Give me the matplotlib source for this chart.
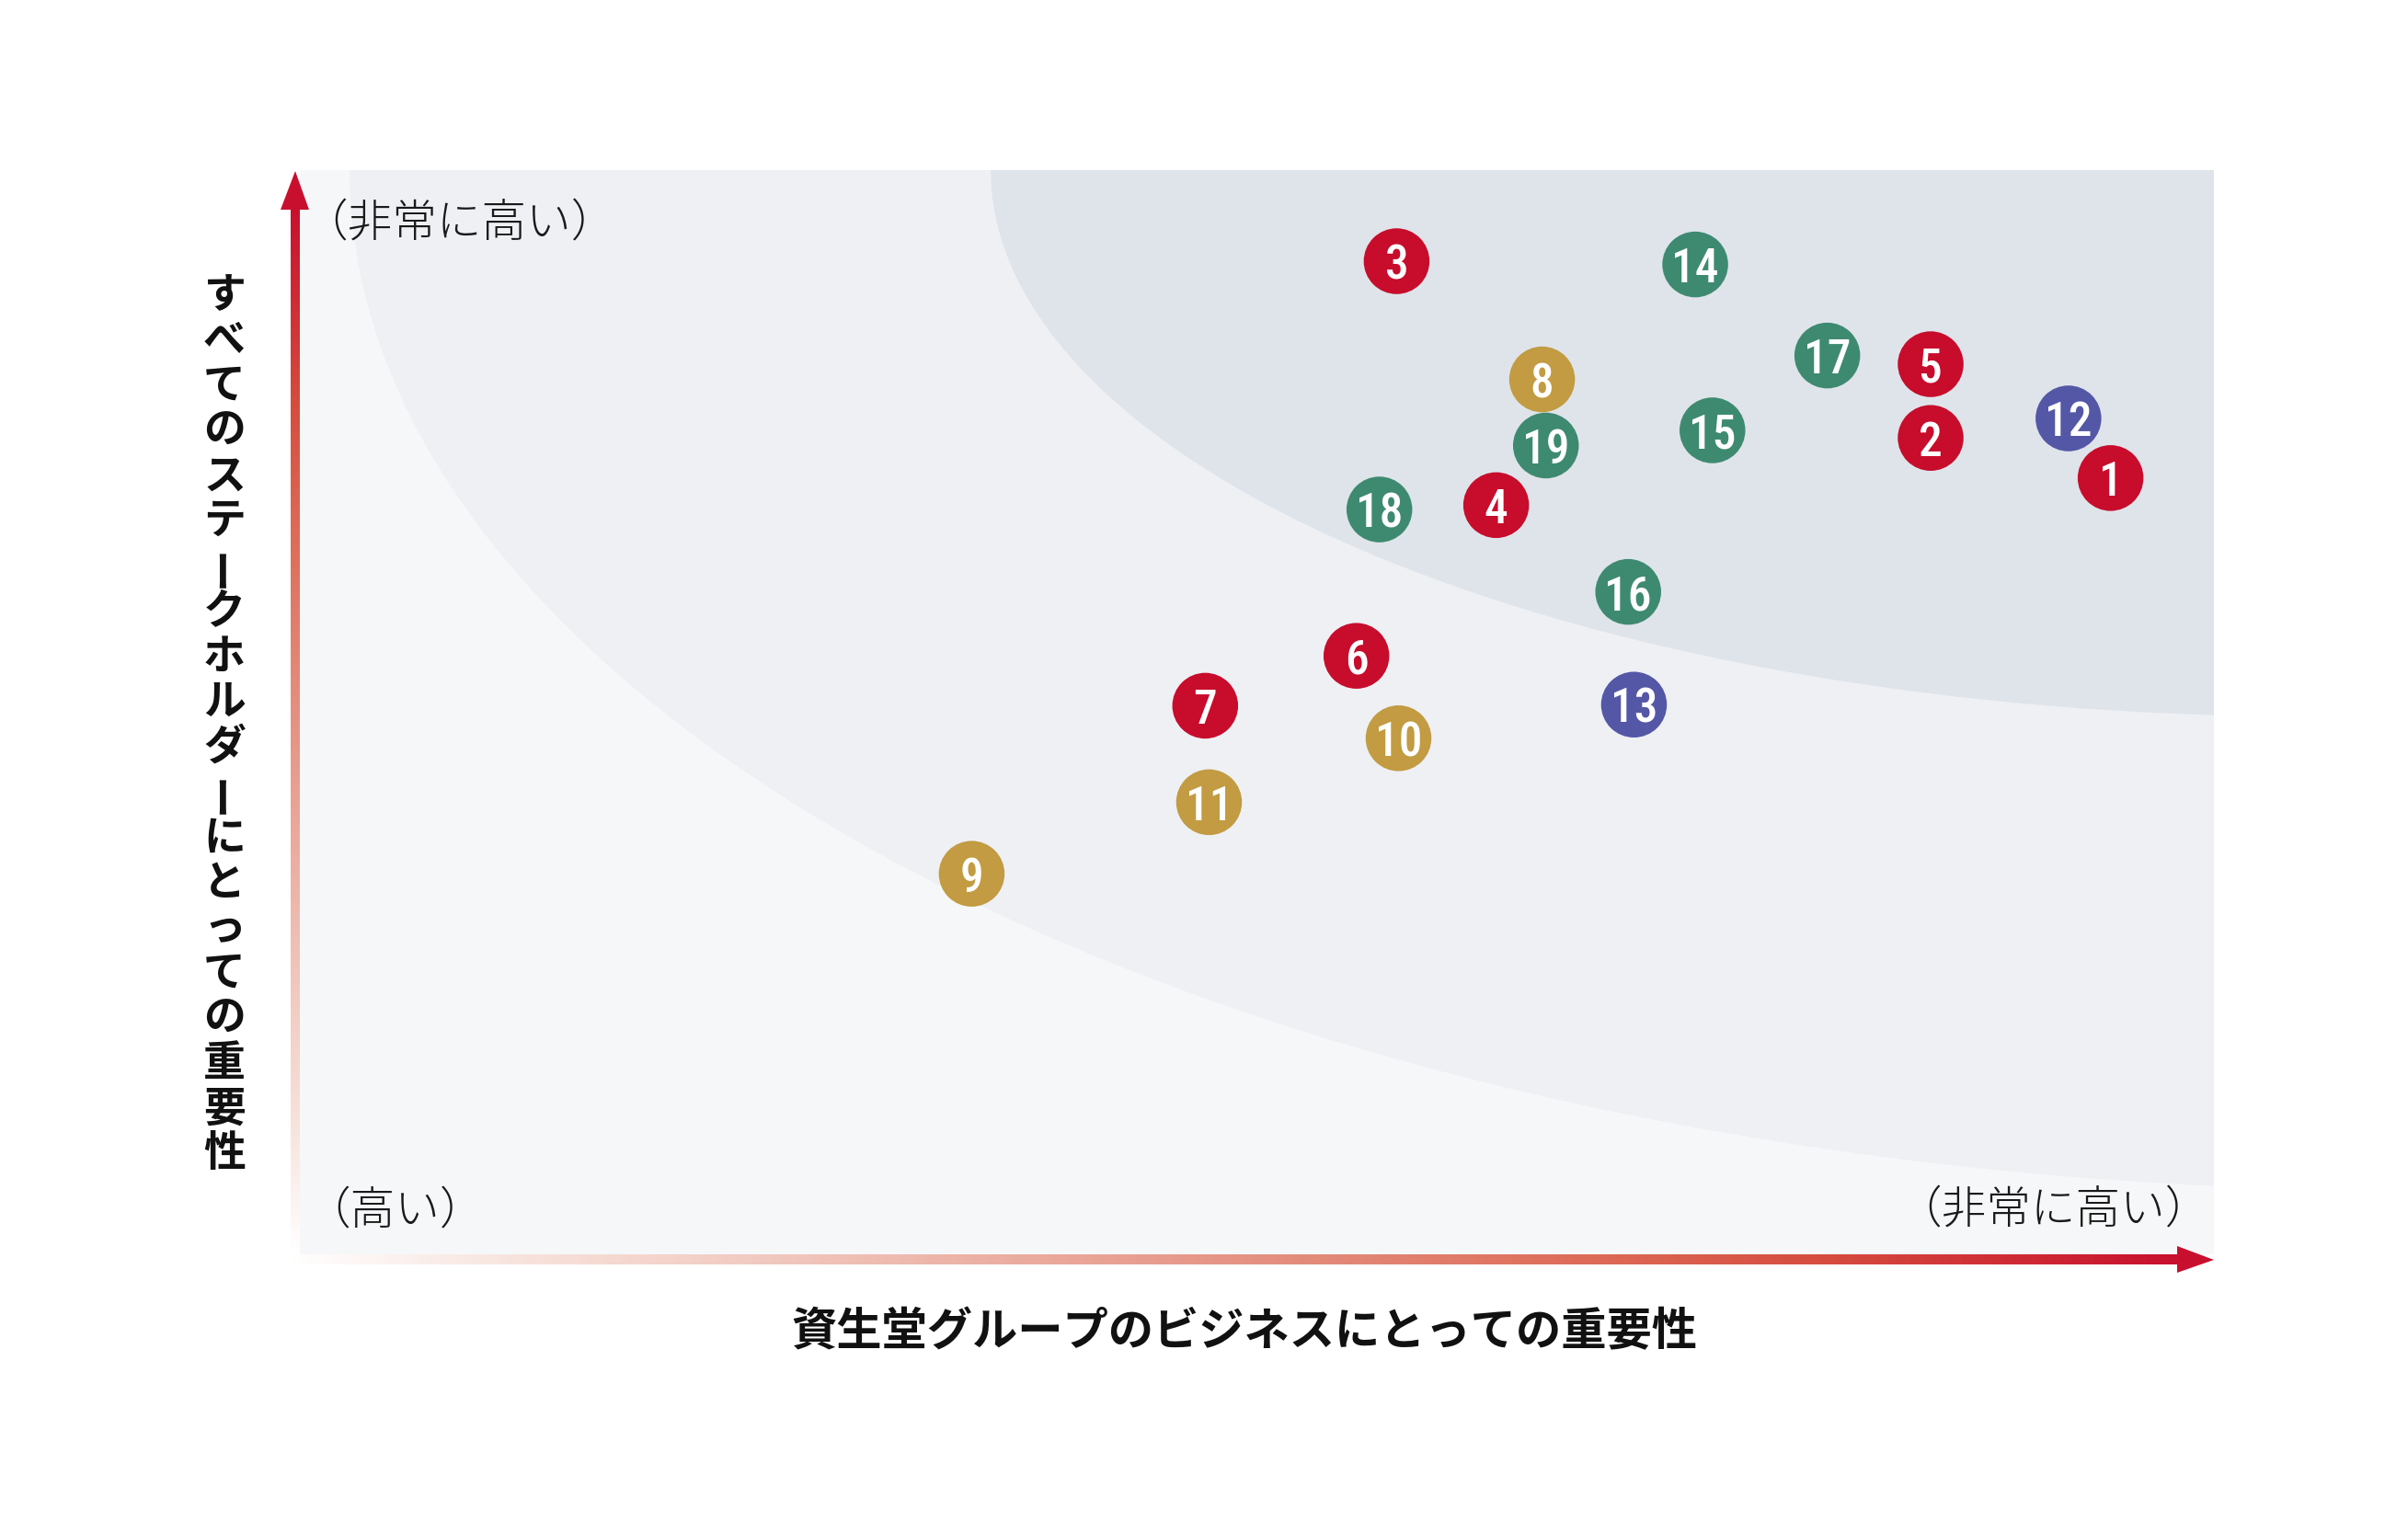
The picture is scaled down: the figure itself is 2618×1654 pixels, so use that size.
import matplotlib
matplotlib.use('Agg')
import matplotlib.pyplot as plt
import numpy as np
from matplotlib.patches import Ellipse, Polygon
from matplotlib.colors import LinearSegmentedColormap
from matplotlib import font_manager as fm

# ---------------- data ----------------
labels = [str(i) for i in range(1, 20)]
x_business = [94.6, 85.2, 57.3, 62.5, 85.2, 55.2, 47.3, 64.9, 35.1, 57.4,
              47.5, 92.4, 69.7, 72.9, 73.8, 69.4, 79.8, 56.4, 65.1]
y_stakeholder = [71.6, 75.3, 91.6, 69.1, 82.1, 55.2, 50.6, 80.7, 35.1, 47.6,
                 41.7, 77.1, 50.7, 91.3, 76.0, 61.1, 82.9, 68.7, 74.6]
groups = ['red'] * 7 + ['gold'] * 4 + ['purple'] * 2 + ['green'] * 6

xlabel = '資生堂グループのビジネスにとっての重要性'
ylabel = 'すべてのステークホルダーにとっての重要性'
top_label = '（非常に高い）'
low_label = '（高い）'

# ---------------- styles ----------------
group_colors = {'red': '#c80c2c', 'gold': '#c29b42', 'purple': '#5457a6', 'green': '#3e8a71'}
names = {f.name for f in fm.fontManager.ttflist}
JP = 'Noto Sans CJK JP'
if 'Roboto Condensed' in names:
    NUM = 'Roboto Condensed'
elif 'Liberation Sans Narrow' in names:
    NUM = 'Liberation Sans Narrow'
else:
    NUM = 'Roboto'
plt.rcParams['font.family'] = [JP, 'DejaVu Sans']

W, H = 2618, 1654
fig = plt.figure(figsize=(W / 100, H / 100), dpi=100)
fig.patch.set_facecolor('white')

# plot area (pixels)
L, R, T, B = 326, 2407, 185, 1364
ax = fig.add_axes([L / W, 1 - B / H, (R - L) / W, (B - T) / H])
ax.set_xlim(0, 100)
ax.set_ylim(0, 100)
ax.set_facecolor('#f6f7f9')
for s in ax.spines.values():
    s.set_visible(False)
ax.set_xticks([])
ax.set_yticks([])

# background zones (quarter ellipses anchored at top-right)
ax.add_patch(Ellipse((110, 100), 2 * 107.4, 2 * 94.1, facecolor='#eef0f4', edgecolor='none', zorder=1))
ax.add_patch(Ellipse((105, 100), 2 * 68.9, 2 * 50.4, facecolor='#dfe4ea', edgecolor='none', zorder=2))

# bubbles
cols = [group_colors[g] for g in groups]
ax.scatter(x_business, y_stakeholder, s=2650, c=cols, edgecolors='none', zorder=5, clip_on=False)
for lab, xv, yv in zip(labels, x_business, y_stakeholder):
    ax.text(xv, yv, lab, ha='center', va='center_baseline', color='white',
            fontsize=37, fontweight='medium', family=NUM, zorder=6)

# ---------------- decoration overlay (pixels) ----------------
deco = fig.add_axes([0, 0, 1, 1], zorder=3)
deco.set_xlim(0, W)
deco.set_ylim(H, 0)
deco.axis('off')
deco.patch.set_alpha(0)

cmap = LinearSegmentedColormap.from_list('arrow', [
    (0.0, '#ffffff'), (0.13, '#f7e1da'), (0.28, '#f0c3b9'),
    (0.70, '#dc6955'), (0.82, '#d54b3e'), (1.0, '#c8102e')])
grad = np.linspace(0, 1, 512)
# y arrow shaft
deco.imshow(grad[:, None], cmap=cmap, extent=(316, 326, 1364, 226), origin='lower',
            aspect='auto', interpolation='bilinear', zorder=2)
deco.add_patch(Polygon([[305, 228], [336, 228], [321, 186]], closed=True,
                       facecolor='#c8102e', edgecolor='none', zorder=3))
# x arrow shaft
deco.imshow(grad[None, :], cmap=cmap, extent=(310, 2368, 1375, 1364), origin='lower',
            aspect='auto', interpolation='bilinear', zorder=2)
deco.add_patch(Polygon([[2367, 1355], [2367, 1384], [2407, 1370]], closed=True,
                       facecolor='#c8102e', edgecolor='none', zorder=3))
deco.set_xlim(0, W)
deco.set_ylim(H, 0)

# corner labels
txtc = '#1a1a1a'
fig.text(329 / W, 1 - 243 / H, top_label, ha='left', va='center', fontsize=35,
         fontweight='light', color=txtc)
fig.text(332 / W, 1 - 1317 / H, low_label, ha='left', va='center', fontsize=35,
         fontweight='light', color=txtc)
fig.text(2403 / W, 1 - 1316 / H, top_label, ha='right', va='center', fontsize=35,
         fontweight='light', color=txtc)

# x label
fig.text(1353 / W, 1 - 1449 / H, xlabel, ha='center', va='center', fontsize=35.5,
         fontweight='bold', color='#111111')

# y label: vertical (stacked) writing
n = len(ylabel)
y0, y1 = 297, 1280
pitch = (y1 - y0) / n
for i, ch in enumerate(ylabel):
    yc = y0 + pitch * (i + 0.5)
    rot = 90 if ch == 'ー' else 0
    fig.text(244 / W, 1 - yc / H, ch, ha='center', va='center', fontsize=33,
             fontweight='bold', color='#111111', rotation=rot)

fig.savefig('out.png', dpi=100, facecolor='white')
